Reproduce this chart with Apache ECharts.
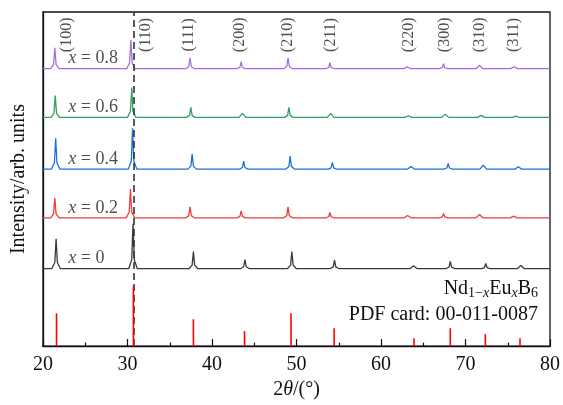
<!DOCTYPE html>
<html>
<head>
<meta charset="utf-8">
<script src="https://cdn.jsdelivr.net/npm/echarts@6/dist/echarts.min.js"></script>
<style>html,body{margin:0;padding:0;background:#fff}#c{width:563px;height:405px}</style>
</head>
<body>
<div id="c"></div>
<script>
// Composition labels and trace offsets (arbitrary intensity units)
const compositions = ['0', '0.2', '0.4', '0.6', '0.8'];
const offsets = [78, 129, 178, 230, 279];
const colors = ['#3a3a3a', '#ee3b3b', '#1d6fdc', '#2f9f62', '#a56ee0'];

// Traces: [2θ, intensity above own baseline]
const trace_x0 = [[20,0],
 [21.05,0],[21.4,6],[21.55,30],[21.7,6],[22.05,0],
 [30.15,0],[30.5,9],[30.65,45],[30.8,9],[31.15,0],
 [37.3,0],[37.65,3.4],[37.8,17],[37.95,3.4],[38.3,0],
 [43.4,0],[43.75,1.8],[43.9,9],[44.05,1.8],[44.4,0],
 [48.95,0],[49.3,3.4],[49.45,17],[49.6,3.4],[49.95,0],
 [54,0],[54.35,1.7],[54.5,8.5],[54.65,1.7],[55,0],
 [63.45,0],[63.85,2.7],[64.25,0],
 [67.7,0],[68.05,1.5],[68.2,7.3],[68.35,1.5],[68.7,0],
 [71.9,0],[72.25,1],[72.4,5],[72.55,1],[72.9,0],
 [76.15,0],[76.55,3],[76.95,0],
 [80,0]];
const trace_x02 = [[20,0],
 [20.9,0],[21.25,4],[21.4,20],[21.55,4],[21.9,0],
 [29.85,0],[30.2,5.8],[30.35,29],[30.5,5.8],[30.85,0],
 [36.9,0],[37.25,2.2],[37.4,11],[37.55,2.2],[37.9,0],
 [42.95,0],[43.3,1.4],[43.45,7],[43.6,1.4],[43.95,0],
 [48.5,0],[48.85,2.2],[49,11],[49.15,2.2],[49.5,0],
 [53.45,0],[53.8,1.1],[53.95,5.3],[54.1,1.1],[54.45,0],
 [62.75,0],[63.15,2.3],[63.55,0],
 [66.9,0],[67.25,0.9],[67.4,4.3],[67.55,0.9],[67.9,0],
 [71.25,0],[71.65,3.3],[72.05,0],
 [75.3,0],[75.7,1.7],[76.1,0],
 [80,0]];
const trace_x04 = [[20,0],
 [21,0],[21.35,6.2],[21.5,31],[21.65,6.2],[22,0],
 [30.1,0],[30.45,8.2],[30.6,41],[30.75,8.2],[31.1,0],
 [37.15,0],[37.5,3],[37.65,15],[37.8,3],[38.15,0],
 [43.25,0],[43.6,1.6],[43.75,8],[43.9,1.6],[44.25,0],
 [48.75,0],[49.1,2.6],[49.25,13],[49.4,2.6],[49.75,0],
 [53.75,0],[54.1,1.3],[54.25,6.7],[54.4,1.3],[54.75,0],
 [63.15,0],[63.55,2.7],[63.95,0],
 [67.45,0],[67.8,1.1],[67.95,5.7],[68.1,1.1],[68.45,0],
 [71.7,0],[72.1,4],[72.5,0],
 [75.85,0],[76.25,2.3],[76.65,0],
 [80,0]];
const trace_x06 = [[20,0],
 [20.95,0],[21.3,4.4],[21.45,22],[21.6,4.4],[21.95,0],
 [30,0],[30.35,6],[30.5,30],[30.65,6],[31,0],
 [37,0],[37.35,2],[37.5,10],[37.65,2],[38,0],
 [43.2,0],[43.6,4],[44,0],
 [48.6,0],[48.95,2],[49.1,10],[49.25,2],[49.6,0],
 [53.65,0],[54.05,4],[54.45,0],
 [62.85,0],[63.25,1.7],[63.65,0],
 [67.2,0],[67.6,3.3],[68,0],
 [71.45,0],[71.85,2],[72.25,0],
 [75.55,0],[75.95,1.3],[76.35,0],
 [80,0]];
const trace_x08 = [[20,0],
 [20.9,0],[21.25,4.2],[21.4,21],[21.55,4.2],[21.9,0],
 [29.9,0],[30.25,5.8],[30.4,29],[30.55,5.8],[30.9,0],
 [36.9,0],[37.25,2.2],[37.4,11],[37.55,2.2],[37.9,0],
 [42.95,0],[43.3,1.4],[43.45,7],[43.6,1.4],[43.95,0],
 [48.5,0],[48.85,2.2],[49,11],[49.15,2.2],[49.5,0],
 [53.45,0],[53.8,1.2],[53.95,6],[54.1,1.2],[54.45,0],
 [62.7,0],[63.1,2],[63.5,0],
 [66.9,0],[67.25,1],[67.4,5],[67.55,1],[67.9,0],
 [71.25,0],[71.65,3.5],[72.05,0],
 [75.35,0],[75.75,2],[76.15,0],
 [80,0]];
const traces = [trace_x0, trace_x02, trace_x04, trace_x06, trace_x08];

// PDF card 00-011-0087 reference lines
const pdfPos = [21.6, 30.7, 37.8, 43.85, 49.35, 54.45, 63.9, 68.2, 72.35, 76.45];
const pdfInt = [33, 60, 27, 15, 33, 18, 8, 18, 12, 8];

// Miller index labels
const hkl = ['(100)', '(110)', '(111)', '(200)', '(210)', '(211)', '(220)', '(300)', '(310)', '(311)'];
const hklPos = [22.85, 32.2, 37.3, 43.3, 49.0, 54.1, 63.3, 67.5, 71.7, 75.7];

// Reference dashed line position
const refLine = 30.75;

// Axis ticks
const xMin = 20, xMax = 80, xStep = 10;

const FONT = 'Liberation Serif';
const series = [];
traces.forEach((t, i) => {
  series.push({
    type: 'line', data: t.map(p => [p[0], p[1] + offsets[i]]),
    symbol: 'none', lineStyle: {color: colors[i], width: 1.3}, z: 2, silent: true
  });
});
series.push({
  type: 'line', data: [], z: 4, silent: true,
  markLine: {symbol: 'none', silent: true, label: {show: false},
    lineStyle: {color: '#333', width: 1.6, type: [7, 4]},
    data: [{xAxis: refLine}]}
});
series.push({
  type: 'bar', data: pdfPos.map((x, i) => [x, pdfInt[i]]),
  barWidth: 1.6, itemStyle: {color: '#ff0000'}, z: 5, silent: true
});
series.push({
  type: 'scatter', symbolSize: 0, silent: true, z: 6,
  data: hklPos.map((x, i) => [x, 313]),
  label: {show: true, position: 'inside', rotate: 90, color: '#222',
    fontFamily: FONT, fontSize: 16, formatter: p => hkl[p.dataIndex]}
});
series.push({
  type: 'scatter', symbolSize: 0, silent: true, z: 6,
  data: offsets.map(o => [23.0, o + 10]),
  label: {show: true, position: 'inside', align: 'left', verticalAlign: 'middle', color: '#222',
    fontFamily: FONT, fontSize: 18,
    formatter: p => '{i|x} = ' + compositions[p.dataIndex],
    rich: {i: {fontStyle: 'italic', fontFamily: FONT, fontSize: 18, color: '#222'}}}
});

const chart = echarts.init(document.getElementById('c'), null, {renderer: 'canvas'});
chart.setOption({
  animation: false,
  backgroundColor: '#fff',
  grid: {left: 43, right: 12, top: 12, bottom: 57, show: true, borderColor: '#111', borderWidth: 1.3, backgroundColor: 'transparent'},
  xAxis: {
    type: 'value', min: xMin, max: xMax, interval: xStep,
    name: '{n|2}{i|θ}{n|/(°)}', nameLocation: 'middle', nameGap: 30,
    nameTextStyle: {rich: {n: {fontFamily: FONT, fontSize: 20, color: '#111'}, i: {fontFamily: FONT, fontStyle: 'italic', fontSize: 20, color: '#111'}}},
    axisLine: {show: true, lineStyle: {color: '#111', width: 1.3}},
    axisTick: {show: true, inside: true, length: 7, lineStyle: {color: '#111', width: 1.2}},
    minorTick: {show: true, splitNumber: 2, length: 3.5, lineStyle: {color: '#111', width: 1.2}},
    axisLabel: {color: '#111', fontFamily: FONT, fontSize: 20, margin: 9},
    splitLine: {show: false}, minorSplitLine: {show: false}
  },
  yAxis: {
    type: 'value', min: 0, max: 336,
    name: 'Intensity/arb. units', nameLocation: 'middle', nameGap: 14,
    nameTextStyle: {fontFamily: FONT, fontSize: 20, color: '#111'},
    axisLine: {show: true, lineStyle: {color: '#111', width: 1.3}},
    axisTick: {show: false}, axisLabel: {show: false}, splitLine: {show: false}
  },
  graphic: [
    {type: 'text', right: 25, top: 279, z: 10, style: {
      text: '{n|Nd}{s|1−}{si|x}{n|Eu}{si|x}{n|B}{s|6}',
      rich: {
        n: {fontFamily: FONT, fontSize: 20, fill: '#111', lineHeight: 22},
        s: {fontFamily: FONT, fontSize: 14, fill: '#111', padding: [9, 0, 0, 0]},
        si: {fontFamily: FONT, fontSize: 14, fontStyle: 'italic', fill: '#111', padding: [9, 0, 0, 0]}
      }}},
    {type: 'text', right: 25, top: 305, z: 10, style: {
      text: 'PDF card: 00-011-0087', font: '20px "Liberation Serif"', fill: '#111'}}
  ],
  series: series
});
</script>
</body>
</html>
